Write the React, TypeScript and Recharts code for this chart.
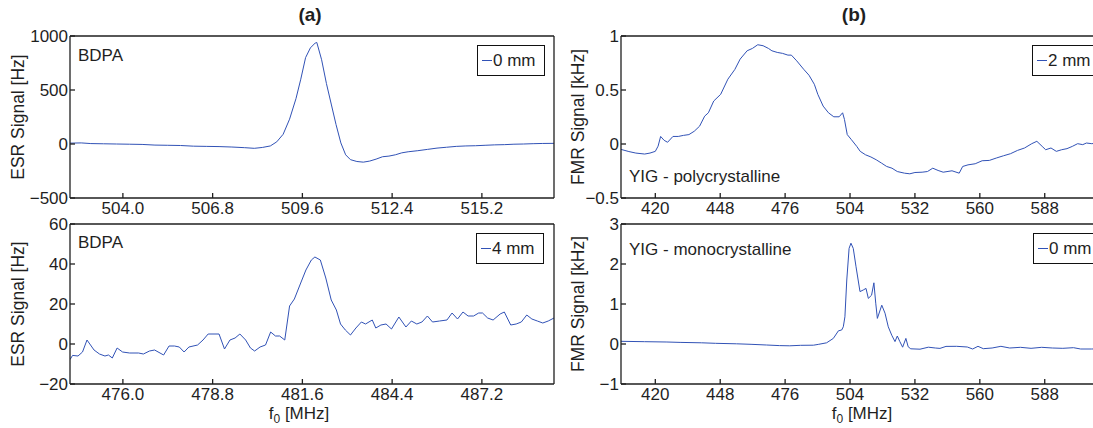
import React from 'react'
import { LineChart, Line, XAxis, YAxis } from 'recharts'

const FONT = '"Liberation Sans", Arial, Helvetica, sans-serif'
const BLUE = '#3152b6'
const INK = '#1f1f1f'

// (a) top: BDPA, 0 mm — f0 [MHz] / ESR signal [Hz]
const esrTopFreq = [502.35, 502.7, 503.0, 503.4, 503.8, 504.2, 504.6, 505.0, 505.4, 505.8, 506.2, 506.6, 507.0, 507.4, 507.8, 508.1, 508.35, 508.6, 508.8, 509.0, 509.2, 509.4, 509.55, 509.7, 509.85, 510.0, 510.05, 510.2, 510.35, 510.5, 510.65, 510.8, 510.95, 511.1, 511.3, 511.5, 511.7, 511.9, 512.1, 512.3, 512.5, 512.7, 512.9, 513.2, 513.5, 513.8, 514.1, 514.4, 514.7, 515.0, 515.3, 515.6, 515.9, 516.2, 516.5, 516.8, 517.1, 517.45]
const esrTopSignal = [8, 10, 4, 2, 0, -2, -4, -10, -12, -14, -20, -22, -24, -28, -34, -40, -32, -18, 20, 90, 230, 420, 600, 800, 890, 935, 940, 780, 560, 370, 180, 10, -100, -145, -162, -168, -158, -140, -118, -112, -100, -82, -72, -62, -50, -38, -30, -22, -18, -16, -12, -8, -6, -2, 0, 3, 5, 6]

// (a) bottom: BDPA, 4 mm
const esrBotFreq = [474.35, 474.43, 474.6, 474.74, 474.88, 475.1, 475.27, 475.44, 475.55, 475.67, 475.82, 475.99, 476.21, 476.49, 476.64, 476.83, 476.99, 477.27, 477.44, 477.61, 477.76, 477.91, 478.06, 478.33, 478.5, 478.66, 479.0, 479.17, 479.34, 479.5, 479.65, 479.83, 479.98, 480.11, 480.28, 480.45, 480.61, 480.76, 480.89, 481.05, 481.2, 481.35, 481.56, 481.71, 481.88, 481.99, 482.16, 482.33, 482.5, 482.66, 482.79, 482.94, 483.1, 483.27, 483.44, 483.57, 483.78, 483.89, 484.05, 484.21, 484.38, 484.61, 484.83, 485.0, 485.17, 485.33, 485.5, 485.66, 485.88, 486.11, 486.27, 486.44, 486.61, 486.77, 486.94, 487.1, 487.22, 487.38, 487.55, 487.77, 487.9, 488.1, 488.27, 488.43, 488.6, 488.76, 488.93, 489.1, 489.27, 489.45]
const esrBotSignal = [-7.8, -5.7, -6, -4, 2, -3, -5, -6, -5.5, -7, -2, -4, -4.5, -4.5, -5, -3.5, -3, -5.5, -1, -1, -1.5, -4, -1.5, -0.5, 2, 5, 5, -2.5, 2, 3, 5, 2, -2, -3.5, -1.5, -0.5, 6, 4, 4, 2, 19, 22.5, 31, 37, 42, 43.5, 42, 33, 22, 17, 10, 7, 4.5, 8, 11, 10, 12, 8, 9.5, 10, 7.5, 13.5, 8.5, 11.5, 10, 11, 14, 11, 11.5, 12, 15.5, 12.5, 16, 14, 14, 15.5, 15.5, 13, 12, 15, 16, 9.5, 10, 11, 14.5, 12.5, 11.5, 10.5, 11.5, 13]

// (b) top: YIG polycrystalline, 2 mm — FMR signal [kHz]
const fmrTopFreq = [405.2, 408.6, 411.6, 415.4, 417.7, 420.0, 421.2, 422.3, 423.8, 425.3, 427.6, 429.9, 432.2, 434.5, 436.8, 439.1, 441.3, 442.9, 445.2, 448.2, 451.3, 454.3, 456.6, 459.6, 461.9, 464.2, 466.5, 468.8, 470.3, 472.6, 474.9, 477.2, 478.7, 481.0, 484.0, 486.3, 488.6, 490.1, 492.4, 494.7, 497.0, 499.3, 500.8, 501.6, 502.8, 504.6, 506.9, 508.4, 510.7, 513.0, 515.3, 517.6, 519.8, 522.1, 524.4, 527.5, 529.8, 532.0, 535.1, 537.4, 539.7, 542.0, 544.2, 548.0, 551.1, 552.6, 554.9, 558.0, 561.0, 564.1, 567.1, 570.2, 573.2, 576.3, 579.3, 582.4, 584.6, 586.9, 588.4, 590.7, 593.0, 595.3, 597.6, 599.9, 602.2, 604.4, 606.0, 608.3, 611.0, 614.0]
const fmrTopSignal = [-0.05, -0.07, -0.084, -0.093, -0.084, -0.068, -0.02, 0.07, 0.034, 0.016, 0.07, 0.07, 0.08, 0.087, 0.118, 0.165, 0.258, 0.289, 0.398, 0.46, 0.6, 0.69, 0.786, 0.863, 0.885, 0.919, 0.91, 0.885, 0.863, 0.848, 0.839, 0.823, 0.823, 0.77, 0.692, 0.637, 0.553, 0.46, 0.351, 0.289, 0.252, 0.252, 0.289, 0.227, 0.087, 0.04, -0.022, -0.068, -0.1, -0.12, -0.146, -0.177, -0.208, -0.224, -0.255, -0.27, -0.276, -0.264, -0.261, -0.255, -0.224, -0.245, -0.261, -0.248, -0.27, -0.208, -0.193, -0.183, -0.155, -0.152, -0.13, -0.109, -0.09, -0.059, -0.037, 0.003, 0.025, -0.022, -0.053, -0.037, -0.068, -0.053, -0.043, -0.022, 0.003, -0.006, 0.009, 0.003, 0.01, 0.0]

// (b) bottom: YIG monocrystalline, 0 mm
const fmrBotFreq = [405.2, 415.4, 425.0, 430.7, 440.0, 446.0, 455.0, 461.3, 468.0, 473.5, 478.0, 482.7, 488.2, 490.3, 493.9, 496.8, 499.0, 500.4, 501.1, 501.8, 502.6, 503.6, 504.4, 505.4, 506.6, 508.3, 509.7, 510.9, 511.9, 513.3, 514.3, 515.1, 515.8, 517.7, 519.1, 520.5, 522.0, 523.4, 524.4, 525.5, 526.7, 528.1, 529.1, 530.2, 534.2, 537.8, 540.8, 542.8, 545.4, 550.0, 554.6, 556.9, 559.2, 561.5, 565.3, 569.1, 572.9, 577.5, 582.1, 586.7, 591.3, 595.8, 600.4, 603.5, 608.1, 614.0]
const fmrBotSignal = [0.067, 0.058, 0.05, 0.04, 0.03, 0.017, 0.005, -0.008, -0.025, -0.04, -0.045, -0.033, -0.03, -0.01, 0.03, 0.14, 0.33, 0.35, 0.43, 0.68, 1.6, 2.39, 2.52, 2.39, 1.93, 1.31, 1.35, 1.39, 1.14, 1.22, 1.53, 1.02, 0.64, 0.97, 0.77, 0.43, 0.22, 0.06, 0.2, 0.06, -0.08, 0.14, -0.07, -0.12, -0.13, -0.08, -0.1, -0.11, -0.06, -0.058, -0.075, -0.125, -0.058, -0.117, -0.1, -0.058, -0.1, -0.083, -0.108, -0.083, -0.1, -0.108, -0.092, -0.125, -0.125, -0.12]

const esrTopTicks = [504.0, 506.8, 509.6, 512.4, 515.2]
const esrBotTicks = [476.0, 478.8, 481.6, 484.4, 487.2]
const fmrTicks = [420, 448, 476, 504, 532, 560, 588]
const esrTopYTicks = [-500, 0, 500, 1000]
const esrBotYTicks = [-20, 0, 20, 40, 60]
const fmrTopYTicks = [-0.5, 0, 0.5, 1]
const fmrBotYTicks = [-1, 0, 1, 2, 3]

const toRows = (f: number[], v: number[]) => f.map((x, i) => ({ f: x, v: v[i] }))
const signed = (v: number) => (v < 0 ? '\u2212' + Math.abs(v) : String(v))

const PLOT_W = 484
const Y_W = 50
const X_H = 40
const MT = 10
const MR = 10
const BOX = 1 // width/height of the top and right "box" axes
const FS = 17

type PanelProps = {
  left: number
  top: number
  h: number
  rows: { f: number; v: number }[]
  xDomain: [number, number]
  xTicks: number[]
  xFmt: (v: number) => string
  yDomain: [number, number]
  yTicks: number[]
  name: string
  note: string
  noteTop: number
  legendLeft: number
}

function Panel(p: PanelProps) {
  const tickStyle = { fill: INK, fontSize: FS, fontFamily: FONT }
  return (
    <>
      <div style={{ position: 'absolute', left: p.left - Y_W, top: p.top - MT - BOX }}>
        <LineChart
          width={Y_W + PLOT_W + BOX + MR}
          height={MT + BOX + p.h + X_H}
          data={p.rows}
          margin={{ top: MT, right: MR, bottom: 0, left: 0 }}
        >
          <XAxis
            dataKey="f"
            type="number"
            domain={p.xDomain}
            ticks={p.xTicks}
            tickFormatter={p.xFmt}
            allowDataOverflow
            interval={0}
            height={X_H}
            stroke={INK}
            strokeWidth={1.3}
            tickSize={-5}
            tickMargin={9}
            tick={tickStyle}
          />
          <XAxis
            xAxisId="top"
            dataKey="f"
            orientation="top"
            type="number"
            domain={p.xDomain}
            ticks={p.xTicks}
            allowDataOverflow
            interval={0}
            height={BOX}
            stroke={INK}
            strokeWidth={1.3}
            tickSize={-5}
            tick={false}
          />
          <YAxis
            type="number"
            domain={p.yDomain}
            ticks={p.yTicks}
            tickFormatter={signed}
            allowDataOverflow
            interval={0}
            width={Y_W}
            stroke={INK}
            strokeWidth={1.3}
            tickSize={-5}
            tickMargin={7}
            tick={tickStyle}
          />
          <YAxis
            yAxisId="right"
            orientation="right"
            type="number"
            domain={p.yDomain}
            ticks={p.yTicks}
            allowDataOverflow
            interval={0}
            width={BOX}
            stroke={INK}
            strokeWidth={1.3}
            tickSize={-5}
            tick={false}
          />
          {/* invisible copy so the box axes (top / right) always get a series */}
          <Line
            xAxisId="top"
            yAxisId="right"
            dataKey="v"
            stroke="none"
            dot={false}
            legendType="none"
            isAnimationActive={false}
          />
          <Line
            dataKey="v"
            name={p.name}
            type="linear"
            stroke={BLUE}
            strokeWidth={1}
            dot={false}
            isAnimationActive={false}
          />
        </LineChart>
      </div>
      <div
        style={{
          position: 'absolute',
          left: p.left + 8,
          top: p.noteTop,
          fontSize: FS,
          color: INK,
          whiteSpace: 'nowrap',
        }}
      >
        {p.note}
      </div>
      <div
        style={{
          position: 'absolute',
          left: p.legendLeft,
          top: p.top + 9,
          width: 68,
          height: 31,
          boxSizing: 'border-box',
          border: '1.4px solid #111',
          background: '#fff',
          display: 'flex',
          alignItems: 'center',
          fontSize: FS,
          color: INK,
          whiteSpace: 'nowrap',
        }}
      >
        <span style={{ display: 'inline-block', width: 10, height: 1.2, background: BLUE, marginLeft: 4, marginRight: 1 }} />
        {p.name}
      </div>
    </>
  )
}

function YLabel({ x, y, text }: { x: number; y: number; text: string }) {
  return (
    <div
      style={{
        position: 'absolute',
        left: x,
        top: y,
        transform: 'translate(-50%, -50%) rotate(-90deg)',
        fontSize: 17.5,
        color: INK,
        whiteSpace: 'nowrap',
      }}
    >
      {text}
    </div>
  )
}

function XLabel({ x, y }: { x: number; y: number }) {
  return (
    <div
      style={{
        position: 'absolute',
        left: x,
        top: y,
        transform: 'translate(-50%, -50%)',
        fontSize: FS,
        lineHeight: 1,
        color: INK,
        whiteSpace: 'nowrap',
      }}
    >
      f<sub style={{ fontSize: 12, lineHeight: 1 }}>0</sub> [MHz]
    </div>
  )
}

export default function App() {
  const fix1 = (v: number) => v.toFixed(1)
  const plain = (v: number) => String(v)
  const titleStyle = {
    position: 'absolute' as const,
    top: 15,
    transform: 'translate(-50%, -50%)',
    fontSize: 19,
    fontWeight: 'bold' as const,
    color: INK,
  }
  return (
    <div
      style={{
        position: 'absolute',
        left: 0,
        top: 0,
        width: 1093,
        height: 428,
        overflow: 'hidden',
        background: '#fff',
        fontFamily: FONT,
      }}
    >
      <div style={{ ...titleStyle, left: 310 }}>(a)</div>
      <div style={{ ...titleStyle, left: 854 }}>(b)</div>

      <Panel
        left={70}
        top={36}
        h={162}
        rows={toRows(esrTopFreq, esrTopSignal)}
        xDomain={[502.35, 517.45]}
        xTicks={esrTopTicks}
        xFmt={fix1}
        yDomain={[-500, 1000]}
        yTicks={esrTopYTicks}
        name="0 mm"
        note="BDPA"
        noteTop={46}
        legendLeft={477}
      />
      <Panel
        left={70}
        top={224}
        h={160}
        rows={toRows(esrBotFreq, esrBotSignal)}
        xDomain={[474.35, 489.45]}
        xTicks={esrBotTicks}
        xFmt={fix1}
        yDomain={[-20, 60]}
        yTicks={esrBotYTicks}
        name="4 mm"
        note="BDPA"
        noteTop={233}
        legendLeft={476}
      />
      <Panel
        left={621}
        top={36}
        h={162}
        rows={toRows(fmrTopFreq, fmrTopSignal)}
        xDomain={[405.2, 614]}
        xTicks={fmrTicks}
        xFmt={plain}
        yDomain={[-0.5, 1]}
        yTicks={fmrTopYTicks}
        name="2 mm"
        note="YIG - polycrystalline"
        noteTop={167}
        legendLeft={1032}
      />
      <Panel
        left={621}
        top={224}
        h={160}
        rows={toRows(fmrBotFreq, fmrBotSignal)}
        xDomain={[405.2, 614]}
        xTicks={fmrTicks}
        xFmt={plain}
        yDomain={[-1, 3]}
        yTicks={fmrBotYTicks}
        name="0 mm"
        note="YIG - monocrystalline"
        noteTop={240}
        legendLeft={1033}
      />

      <YLabel x={18} y={117} text="ESR Signal [Hz]" />
      <YLabel x={18} y={304} text="ESR Signal [Hz]" />
      <YLabel x={578} y={117} text="FMR Signal [kHz]" />
      <YLabel x={578} y={304} text="FMR Signal [kHz]" />
      <XLabel x={299} y={415} />
      <XLabel x={862} y={415} />
    </div>
  )
}
